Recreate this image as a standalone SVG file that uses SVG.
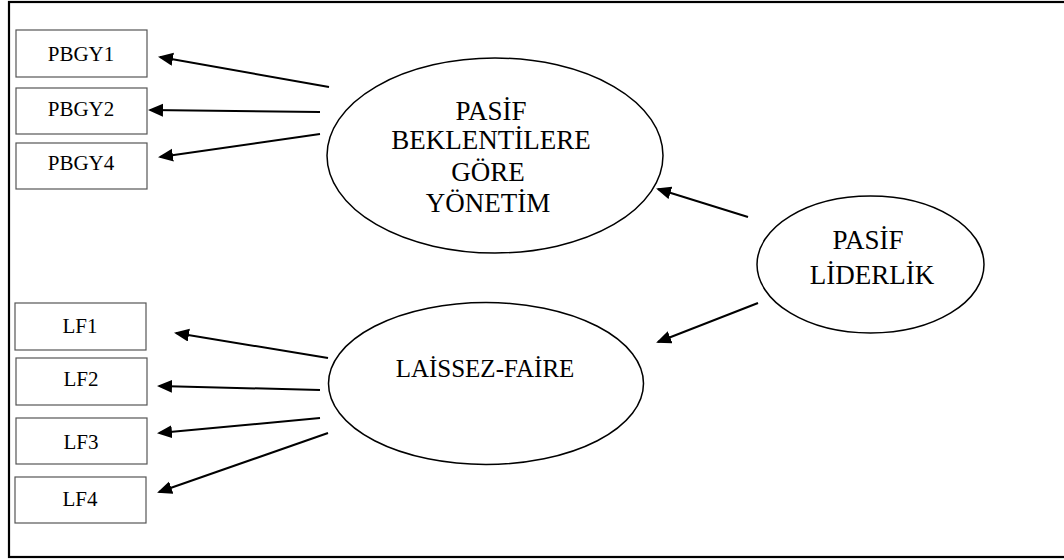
<svg xmlns="http://www.w3.org/2000/svg" width="1064" height="560" viewBox="0 0 1064 560">
  <style>
    .frame { fill: none; stroke: #000; stroke-width: 2.2; }
    .box { fill: #fff; stroke: #555; stroke-width: 1.2; }
    .oval { fill: #fff; stroke: #000; stroke-width: 1.5; }
    .small { font-family: "Liberation Serif", "Times New Roman", serif; font-size: 21px; fill: #000; text-anchor: middle; }
    .big { font-family: "Liberation Serif", "Times New Roman", serif; font-size: 27px; fill: #000; text-anchor: middle; }
    .link { fill: none; stroke: #000; stroke-width: 2; marker-end: url(#head); }
  </style>
  <defs>
    <marker id="head" markerUnits="userSpaceOnUse" markerWidth="16" markerHeight="14" refX="13" refY="6.5" orient="auto">
      <path d="M0,0 L15,6.5 L0,13 Z" fill="#000"/>
    </marker>
  </defs>

  <rect width="1064" height="560" fill="#fff"/>
  <!-- outer frame (right side runs past the canvas edge) -->
  <rect class="frame" x="9" y="2" width="1070" height="555"/>

  <!-- indicators of the first factor -->
  <g id="pbgy1"><rect class="box" x="16" y="30" width="131" height="47"/><text class="small" x="81" y="61">PBGY1</text></g>
  <g id="pbgy2"><rect class="box" x="16" y="88" width="131" height="46"/><text class="small" x="81" y="116">PBGY2</text></g>
  <g id="pbgy4"><rect class="box" x="16" y="143" width="131" height="46"/><text class="small" x="81" y="170">PBGY4</text></g>

  <!-- indicators of the second factor -->
  <g id="lf1"><rect class="box" x="15" y="303" width="131" height="47"/><text class="small" x="80" y="333">LF1</text></g>
  <g id="lf2"><rect class="box" x="16" y="358" width="131" height="47"/><text class="small" x="81" y="386">LF2</text></g>
  <g id="lf3"><rect class="box" x="16" y="418" width="131" height="46"/><text class="small" x="81" y="449">LF3</text></g>
  <g id="lf4"><rect class="box" x="15" y="477" width="131" height="46"/><text class="small" x="80" y="506">LF4</text></g>

  <!-- latent factors -->
  <g id="pasif-bgy">
    <ellipse class="oval" cx="495" cy="155.5" rx="168" ry="97.5"/>
    <text class="big" x="491" y="120">PASİF</text>
    <text class="big" x="491" y="149">BEKLENTİLERE</text>
    <text class="big" x="488" y="181">GÖRE</text>
    <text class="big" x="488" y="212">YÖNETİM</text>
  </g>
  <g id="laissez-faire">
    <ellipse class="oval" cx="486" cy="383.5" rx="157.5" ry="81"/>
    <text class="big" x="485" y="377" style="font-size:25px">LAİSSEZ-FAİRE</text>
  </g>
  <g id="pasif-liderlik">
    <ellipse class="oval" cx="870.5" cy="264.5" rx="113.5" ry="68.5"/>
    <text class="big" x="868" y="249">PASİF</text>
    <text class="big" x="872" y="284">LİDERLİK</text>
  </g>

  <!-- connectors -->
  <g id="connectors">
    <line class="link" x1="329" y1="87" x2="160" y2="57"/>
    <line class="link" x1="320" y1="112" x2="150" y2="110"/>
    <line class="link" x1="320" y1="134" x2="160" y2="157"/>

    <line class="link" x1="328" y1="358" x2="176" y2="333"/>
    <line class="link" x1="320" y1="390" x2="159" y2="386"/>
    <line class="link" x1="320" y1="418" x2="159" y2="433"/>
    <line class="link" x1="328" y1="433" x2="159" y2="492"/>

    <line class="link" x1="748" y1="217" x2="658" y2="189"/>
    <line class="link" x1="758" y1="303" x2="658" y2="342"/>
  </g>
</svg>
